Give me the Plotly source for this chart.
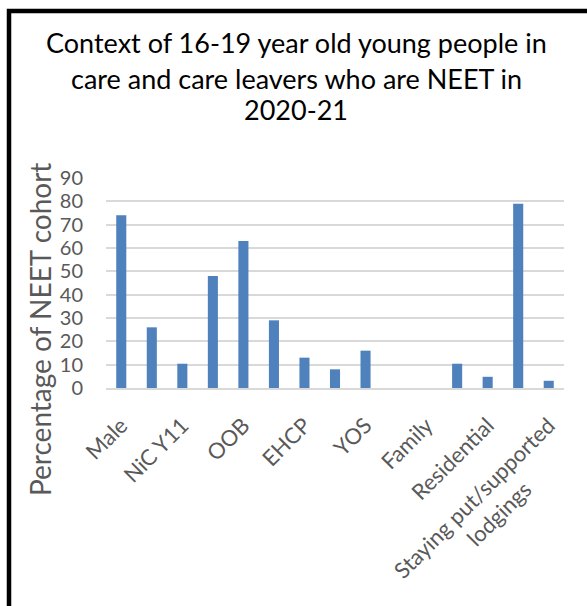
import plotly.graph_objects as go

categories = ["Male", "Female", "NiC Y11", "In care Y11", "OOB", "In borough",
              "EHCP", "SEN support", "YOS", "UASC", "Family", "Foster care",
              "Residential", "Independent",
              "Staying put/supported lodgings"]
values = [74, 26, 10.4, 48, 63, 29, 13, 8, 16, 0, 0, 10.4, 4.8, 79, 3.1]
shown_ticks = ["Male", "NiC Y11", "OOB", "EHCP", "YOS", "Family", "Residential",
               "Staying put/supported lodgings"]
shown_text = ["Male", "NiC Y11", "OOB", "EHCP", "YOS", "Family", "Residential",
              "Staying put/supported<br>lodgings" + "\u00a0" * 11]
y_ticks = [0, 10, 20, 30, 40, 50, 60, 70, 80, 90]
title_lines = ["Context of 16-19 year old young people in",
               "care and care leavers who are NEET in",
               "2020-21"]

FONT = "Lato"
W, H = 587, 606
L, R, T, B = 106, 23, 178, 218
pw, ph = W - L - R, H - T - B

fig = go.Figure(go.Bar(x=categories, y=values, marker_color="#4f81bd",
                       marker_line_width=0))

def px_x(p):
    return (p - L) / pw

def px_y(p):
    return (H - B - p) / ph

title_y = [42.5, 78.5, 109]
annotations = [dict(text=t, xref="paper", yref="paper", x=px_x(296), y=px_y(yy),
                    xanchor="center", yanchor="middle", showarrow=False,
                    font=dict(family=FONT, size=27, color="#000000"))
               for t, yy in zip(title_lines, title_y)]
annotations.append(dict(text="Percentage of NEET cohort", textangle=-90,
                        xref="paper", yref="paper", x=px_x(40), y=px_y(330),
                        xanchor="center", yanchor="middle", showarrow=False,
                        font=dict(family=FONT, size=28, color="#595959")))

fig.update_layout(
    width=W, height=H,
    margin=dict(l=L, r=R, t=T, b=B, autoexpand=False),
    paper_bgcolor="white", plot_bgcolor="white",
    bargap=0.67,
    showlegend=False,
    font=dict(family=FONT, color="#595959"),
    xaxis=dict(type="category", tickmode="array", tickvals=shown_ticks,
               ticktext=shown_text, tickangle=-45,
               tickfont=dict(size=22, color="#595959"),
               showgrid=False, showline=True, linecolor="#d9d9d9", linewidth=2,
               ticks="", ticklabelstandoff=14),
    yaxis=dict(range=[0, 90], tickvals=y_ticks, showgrid=True,
               gridcolor="#d9d9d9", gridwidth=1.5, zeroline=False,
               tickfont=dict(size=20, color="#595959"),
               ticklabelstandoff=22),
    annotations=annotations,
    shapes=[dict(type="rect", xref="paper", yref="paper",
                 x0=px_x(9), x1=px_x(600), y0=px_y(620), y1=px_y(11),
                 line=dict(color="black", width=4.5), fillcolor="rgba(0,0,0,0)")],
)

fig.write_html("out.html", config={"displayModeBar": False},
               post_script="document.body.style.margin='0';document.body.style.padding='0';")
